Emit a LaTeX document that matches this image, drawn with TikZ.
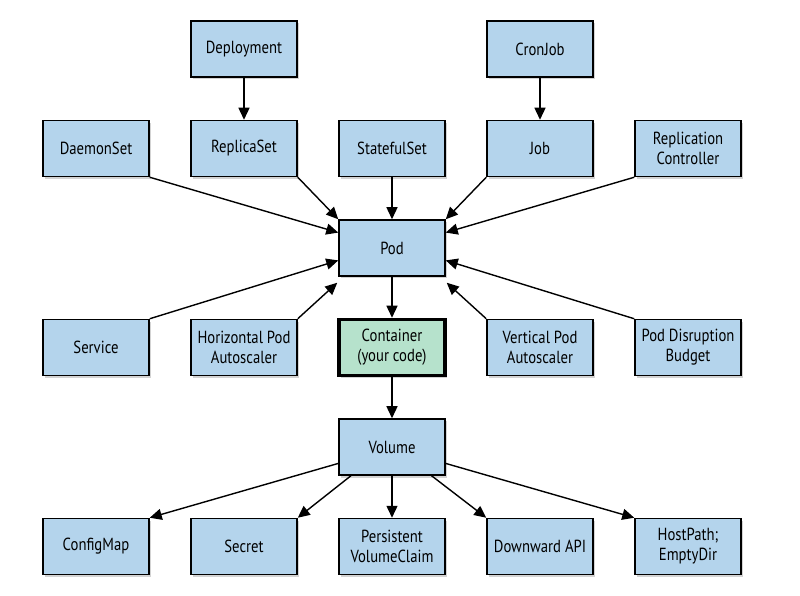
\documentclass[tikz,border=0pt]{standalone}
\usepackage{fontspec}
\setmainfont{PT Sans}[FakeStretch=0.84]
\usetikzlibrary{shapes.geometric, arrows.meta, shadows, calc}
\definecolor{boxblue}{RGB}{180,212,236}
\definecolor{boxgreen}{RGB}{182,226,204}
\tikzstyle{kind} = [rectangle, minimum width=106pt, minimum height=56pt, text centered, align=center, draw=black, line width=1.5pt, fill=boxblue, drop shadow={opacity=0.35, shadow xshift=2pt, shadow yshift=-2.5pt}]
\tikzstyle{code} = [kind, fill=boxgreen, line width=3.5pt]
\tikzstyle{arrow} = [line width=1.4pt, -{Triangle[length=12pt,width=11pt]}]

\begin{document}
\begin{tikzpicture}[node distance=99.5pt]
			\fontsize{17.5}{20}\selectfont
			\useasboundingbox (-392pt,-348pt) rectangle (408pt,248pt);
			\node (pod) [kind] {Pod};
			\node (statefulset) [kind, above of=pod] {StatefulSet};
			\node (replicaset) [kind, left of=statefulset, xshift=-48.5pt] {ReplicaSet};
			\node (daemonset) [kind, left of=replicaset, xshift=-48.5pt] {DaemonSet};
			\node (job) [kind, right of=statefulset, xshift=48.5pt] {Job};
			\node (rc) [kind, right of=job, xshift=48.5pt] {Replication\\Controller};
			\node (deployment) [kind, above of=replicaset] {Deployment};
			\node (cronjob) [kind, above of=job] {CronJob};
			\node (container) [code, below of=pod] {Container\\(your code)};
			\node (hpa) [kind, left of=container, xshift=-48.5pt] {Horizontal Pod\\Autoscaler};
			\node (service) [kind, left of=hpa, xshift=-48.5pt] {Service};
			\node (vpa) [kind, right of=container, xshift=48.5pt] {Vertical Pod\\Autoscaler};
			\node (pdb) [kind, right of=vpa, xshift=48.5pt] {Pod Disruption\\Budget};
			\node (volume) [kind, below of=container] {Volume};
			\node (pvc) [kind, below of=volume] {Persistent\\VolumeClaim};
			\node (secret) [kind, left of=pvc, xshift=-48.5pt] {Secret};
			\node (configmap) [kind, left of=secret, xshift=-48.5pt] {ConfigMap};
			\node (downward) [kind, right of=pvc, xshift=48.5pt] {Downward API};
			\node (hostpath) [kind, right of=downward, xshift=48.5pt] {HostPath;\\EmptyDir};
			\draw [arrow] (deployment) -- (replicaset);
			\draw [arrow] (cronjob) -- (job);
			\draw [arrow] (statefulset) -- (pod);
			\draw [arrow] (replicaset.south east) -- (pod.north west);
			\draw [arrow] (daemonset.south east) -- (pod.164);
			\draw [arrow] (service.north east) -- (pod.193);
			\draw [arrow] (hpa.north east) -- ($(pod.south west)+(-1pt,-6pt)$);
			\draw [arrow] (job.south west) -- (pod.north east);
			\draw [arrow] (rc.south west) -- (pod.16);
			\draw [arrow] (pdb.north west) -- (pod.-13);
			\draw [arrow] (vpa.north west) -- ($(pod.south east)+(1pt,-6pt)$);
			\draw [arrow] (pod) -- (container);
			\draw [arrow] (container) -- (volume);
			\draw [arrow] (volume.197) -- (configmap.north east);
			\draw [arrow] (volume.215) -- (secret.north east);
			\draw [arrow] (volume) -- (pvc);
			\draw [arrow] (volume.-36) -- (downward.north west);
			\draw [arrow] (volume.-17) -- (hostpath.north west);
		\end{tikzpicture}
\end{document}
